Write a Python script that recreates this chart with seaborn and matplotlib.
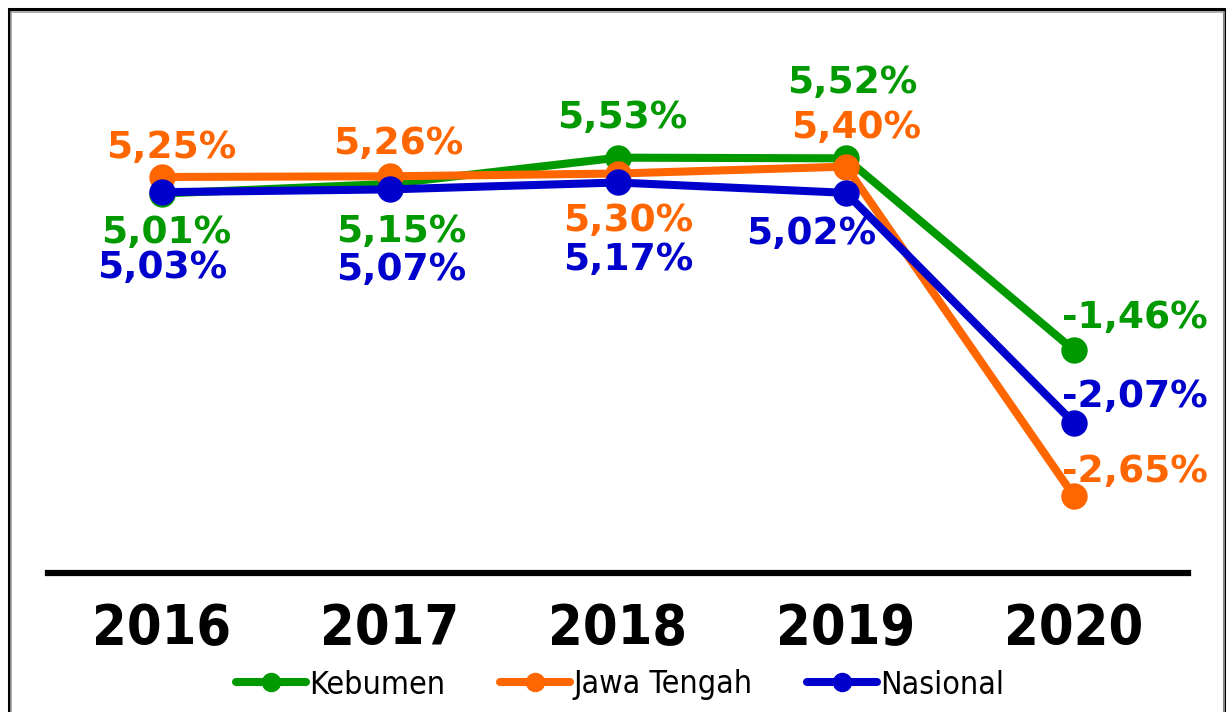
import numpy as np
import pandas as pd
import matplotlib
matplotlib.use("Agg")
import matplotlib.pyplot as plt
import seaborn as sns
from matplotlib.lines import Line2D
from matplotlib.patches import Rectangle

# Data
YEARS = ["2016", "2017", "2018", "2019", "2020"]
KEBUMEN = [5.01, 5.15, 5.53, 5.52, -1.46]
JAWA_TENGAH = [5.25, 5.26, 5.30, 5.40, -2.65]
NASIONAL = [5.03, 5.07, 5.17, 5.02, -2.07]
SERIES_NAMES = ["Kebumen", "Jawa Tengah", "Nasional"]

COLORS = {"Kebumen": "#009900", "Jawa Tengah": "#FF6600", "Nasional": "#0000CC"}

# label offsets in pixels (dx, dy) per series and year
LABEL_OFFSETS = {
    "Kebumen": [(4, -39), (11, -48), (4, 40), (6, 75), (61, 32)],
    "Jawa Tengah": [(9, 29), (8, 32), (10, -47), (10, 39), (61, 24)],
    "Nasional": [(0, -76), (11, -81), (10, -78), (-35, -41), (61, 26)],
}

df = pd.DataFrame({"Tahun": YEARS, "Kebumen": KEBUMEN,
                   "Jawa Tengah": JAWA_TENGAH, "Nasional": NASIONAL})
long_df = df.melt(id_vars="Tahun", var_name="Wilayah", value_name="Pertumbuhan")

# compressed value axis: negative band stretched, gap squeezed
KNOTS_V = np.array([-4.0, -1.5, 5.0, 8.0])
KNOTS_P = np.array([-666.0, -351.0, -194.0, -(194.0 - 3 * 69.0)])


def forward(v):
    v = np.asarray(v, dtype=float)
    return np.interp(v, KNOTS_V, KNOTS_P, left=np.nan, right=np.nan)


def inverse(p):
    p = np.asarray(p, dtype=float)
    return np.interp(p, KNOTS_P, KNOTS_V)


sns.set_theme(style="white")
plt.rcParams["font.family"] = ["DejaVu Sans"]

fig = plt.figure(figsize=(12.27, 7.12), dpi=100)
ax = fig.add_axes([48 / 1227, 139 / 712, 1140 / 1227, 543 / 712])

sns.lineplot(data=long_df, x="Tahun", y="Pertumbuhan", hue="Wilayah",
             hue_order=SERIES_NAMES, palette=COLORS, sort=False,
             linewidth=5.8, marker="o", markersize=19, markeredgewidth=0,
             legend=False, ax=ax)

ax.set_yscale("function", functions=(forward, inverse))
ax.set_ylim(-3.26, 7.38)
ax.set_xlim(-0.5, 4.5)

values = {"Kebumen": KEBUMEN, "Jawa Tengah": JAWA_TENGAH, "Nasional": NASIONAL}
for name in SERIES_NAMES:
    for i, v in enumerate(values[name]):
        dx, dy = LABEL_OFFSETS[name][i]
        ax.annotate(f"{v:.2f}%".replace(".", ","), xy=(i, v),
                    xytext=(dx, dy), textcoords="offset pixels",
                    ha="center", va="center", fontsize=27,
                    fontweight="bold", color=COLORS[name])

ax.set_xlabel("")
ax.set_ylabel("")
ax.set_yticks([])
for side in ["top", "left", "right"]:
    ax.spines[side].set_visible(False)
ax.spines["bottom"].set_linewidth(4.5)
ax.spines["bottom"].set_color("black")
ax.tick_params(axis="x", length=0, pad=21)
for lbl in ax.get_xticklabels():
    lbl.set_fontsize(40)
    lbl.set_fontweight("bold")
    lbl.set_fontstretch("condensed")
    lbl.set_color("black")

handles = [Line2D([0], [0], color=COLORS[n], linewidth=5.8, marker="o",
                  markersize=13) for n in SERIES_NAMES]
leg = fig.legend(handles, SERIES_NAMES, loc="center",
                 bbox_to_anchor=(620 / 1227, 1 - 685 / 712),
                 ncol=3, frameon=False, handlelength=2.2, handletextpad=0.1,
                 columnspacing=1.7,
                 prop={"family": "DejaVu Sans", "stretch": "condensed", "size": 23})
for t in leg.get_texts():
    t.set_color("black")

# outer frame
fig.add_artist(Rectangle((9 / 1227, -0.1), 1215 / 1227, 1.1 - 9 / 712,
                         transform=fig.transFigure, fill=False,
                         edgecolor="black", linewidth=2.2))
fig.add_artist(Rectangle((11 / 1227, -0.1), 1213 / 1227, 1.1 - 12 / 712,
                         transform=fig.transFigure, fill=False,
                         edgecolor="#a0a0a0", linewidth=1.2))

fig.savefig("out.png", dpi=100)
